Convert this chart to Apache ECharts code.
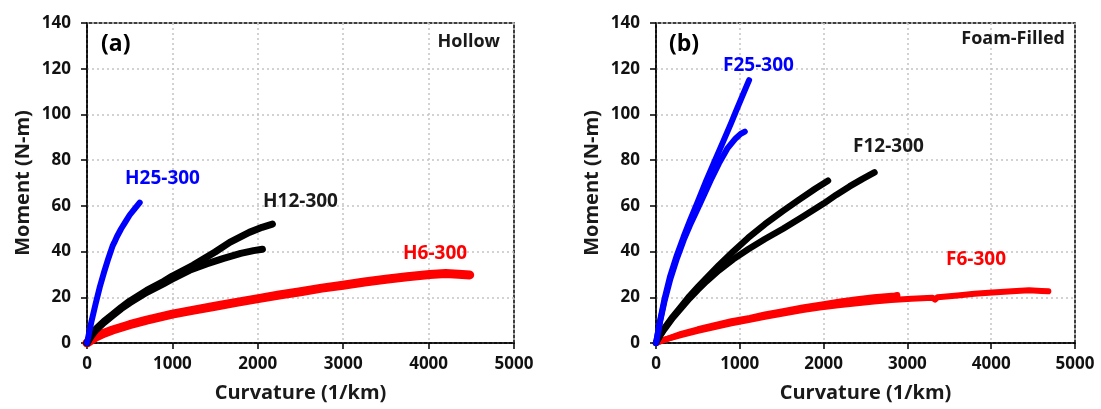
<!DOCTYPE html>
<html>
<head>
<meta charset="utf-8">
<script src="https://cdn.jsdelivr.net/npm/echarts@6/dist/echarts.min.js"></script>
<style>
html,body{margin:0;padding:0;background:#fff;}
#chart{width:1101px;height:409px;}
</style>
</head>
<body>
<div id="chart"></div>
<script>
// ---- Data (curvature in 1/km, moment in N-m) ----
var xTicks = [0, 1000, 2000, 3000, 4000, 5000];
var yTicks = [0, 20, 40, 60, 80, 100, 120, 140];

// Panel (a) Hollow
var h25 = [[0,0],[50,9],[100,17],[150,24.5],[200,31],[250,37],[300,42.5],[320,44],[350,46.5],[400,50],[450,53],[500,56],[560,58.8],[617,61.4]];
var h12a = [[0,0],[50,3.5],[100,6],[200,9.5],[300,12.5],[400,15.5],[500,18.3],[700,23],[900,27],[1000,29.3],[1241,34],[1500,39.8],[1671,44],[1900,48.4],[2050,50.6],[2171,52]];
var h12b = [[0,0],[50,3],[100,5.5],[200,9],[300,12],[400,15],[500,17.6],[700,22.2],[900,26],[1000,28],[1200,31.8],[1400,34.6],[1600,37],[1800,39.2],[1950,40.4],[2054,41]];
var h6 = [[0,0],[100,2.5],[200,4.3],[300,5.7],[500,8],[700,10],[1000,12.6],[1250,14.4],[1500,16.1],[1750,17.8],[2022,19.5],[2250,21],[2500,22.4],[2750,24],[2998,25.3],[3250,26.7],[3500,27.9],[3750,29],[4013,30],[4200,30.4],[4350,30.1],[4481,29.8]];

// Panel (b) Foam-Filled
var f25a = [[0,0],[50,10],[100,19],[167,29],[250,38.5],[330,46.5],[405,53.5],[500,62],[600,71],[700,79.5],[800,88],[900,96.5],[950,101],[1030,108],[1111,115]];
var f25b = [[0,0],[50,9.5],[100,18],[167,27.5],[250,37],[330,45],[405,51.5],[500,59],[563,64],[650,71],[750,78.5],[850,85],[950,89.5],[1010,91.5],[1060,92.5]];
var f12a = [[0,0],[50,3.5],[100,6.5],[200,11.5],[300,16],[400,20.5],[500,24.5],[603,28.5],[750,34],[920,40],[1100,46],[1300,52],[1516,57.8],[1700,62.5],[1900,67.5],[2052,71]];
var f12b = [[0,0],[50,3.3],[100,6],[200,11],[300,15.3],[400,19.5],[500,23.3],[603,27],[750,31.8],[920,36.6],[1100,41],[1300,45.5],[1516,50],[1750,55.2],[2000,61],[2150,64.8],[2310,68.5],[2460,71.7],[2607,74.6]];
var f6a = [[0,0],[100,1.5],[300,3.5],[500,5.3],[700,7],[900,8.6],[1119,10.2],[1300,11.5],[1500,12.8],[1750,14.4],[1952,15.5],[2200,16.6],[2400,17.4],[2600,18.1],[2806,18.8],[3050,19.4],[3300,19.8],[3330,19],[3360,20],[3600,20.8],[3800,21.5],[4016,22.1],[4250,22.6],[4452,23.1],[4600,22.8],[4682,22.6]];
var f6b = [[0,0],[300,4],[500,6],[700,7.8],[900,9.5],[1119,11],[1300,12.5],[1500,13.8],[1750,15.5],[2000,17],[2200,18.2],[2400,19.2],[2600,20],[2850,20.8],[2880,21],[2880,19.8]];

var FONT = '"Open Sans", "DejaVu Sans", sans-serif';
var BLUE = '#0000ff', BLACK = '#000000', RED = '#ff0000';

function xAxisCfg(gi) {
  return {
    type: 'value', gridIndex: gi, min: xTicks[0], max: xTicks[xTicks.length - 1], interval: 1000,
    name: 'Curvature (1/km)', nameLocation: 'middle', nameGap: 40,
    nameTextStyle: {fontFamily: FONT, fontWeight: 'bold', fontSize: 20, color: '#1a1a1a'},
    axisLine: {show: true, onZero: false, lineStyle: {color: '#000', width: 1.5}},
    axisTick: {show: true, inside: false, length: 6, lineStyle: {color: '#000', width: 1.5}},
    axisLabel: {fontFamily: FONT, fontWeight: 'bold', fontSize: 17, color: '#111', margin: 13,
      formatter: function (v) { return String(v); }},
    splitLine: {show: true, lineStyle: {color: '#c4c4c4', width: 1.5, type: [2, 3]}}
  };
}
function yAxisCfg(gi) {
  return {
    type: 'value', gridIndex: gi, min: yTicks[0], max: yTicks[yTicks.length - 1], interval: 20,
    name: 'Moment (N-m)', nameLocation: 'middle', nameGap: 54, nameRotate: 90,
    nameTextStyle: {fontFamily: FONT, fontWeight: 'bold', fontSize: 20, color: '#1a1a1a'},
    axisLine: {show: true, onZero: false, lineStyle: {color: '#000', width: 1.5}},
    axisTick: {show: true, inside: false, length: 6, lineStyle: {color: '#000', width: 1.5}},
    axisLabel: {fontFamily: FONT, fontWeight: 'bold', fontSize: 17, color: '#111', margin: 16,
      formatter: function (v) { return String(v); }},
    splitLine: {show: true, lineStyle: {color: '#c4c4c4', width: 1.5, type: [2, 3]}}
  };
}
function line(data, color, width, gi) {
  return {
    type: 'line', data: data, xAxisIndex: gi, yAxisIndex: gi,
    showSymbol: false, smooth: false, animation: false, silent: true,
    lineStyle: {color: color, width: width, cap: 'round', join: 'round'}
  };
}

var chart = echarts.init(document.getElementById('chart'), null, {renderer: 'canvas'});
chart.setOption({
  backgroundColor: '#ffffff',
  animation: false,
  grid: [
    {left: 87, top: 23, width: 427, height: 320, show: true, borderColor: '#000', borderWidth: 1.5},
    {left: 656, top: 23, width: 419, height: 320, show: true, borderColor: '#000', borderWidth: 1.5}
  ],
  xAxis: [xAxisCfg(0), xAxisCfg(1)],
  yAxis: [yAxisCfg(0), yAxisCfg(1)],
  series: [
    line(h6, RED, 9, 0),
    line(h12a, BLACK, 7, 0),
    line(h12b, BLACK, 7, 0),
    line(h25, BLUE, 6, 0),
    line(f6a, RED, 6, 1),
    line(f6b, RED, 6, 1),
    line(f12a, BLACK, 6.5, 1),
    line(f12b, BLACK, 6.5, 1),
    line(f25a, BLUE, 6, 1),
    line(f25b, BLUE, 6, 1)
  ],
  graphic: [
    {type: 'text', left: 101, top: 33, z: 100, style: {text: '(a)', fill: '#000', font: 'bold 23px ' + FONT}},
    {type: 'text', right: 601, top: 33, z: 100, style: {text: 'Hollow', fill: '#1a1a1a', font: 'bold 18px ' + FONT}},
    {type: 'text', left: 669, top: 33, z: 100, style: {text: '(b)', fill: '#000', font: 'bold 23px ' + FONT}},
    {type: 'text', right: 36, top: 30, z: 100, style: {text: 'Foam-Filled', fill: '#1a1a1a', font: 'bold 18px ' + FONT}},
    {type: 'text', left: 125, top: 169, z: 100, style: {text: 'H25-300', fill: BLUE, font: 'bold 19px ' + FONT}},
    {type: 'text', left: 263, top: 192, z: 100, style: {text: 'H12-300', fill: '#1a1a1a', font: 'bold 19px ' + FONT}},
    {type: 'text', left: 403, top: 244, z: 100, style: {text: 'H6-300', fill: RED, font: 'bold 19px ' + FONT}},
    {type: 'text', left: 723, top: 56, z: 100, style: {text: 'F25-300', fill: BLUE, font: 'bold 19px ' + FONT}},
    {type: 'text', left: 853, top: 137, z: 100, style: {text: 'F12-300', fill: '#1a1a1a', font: 'bold 19px ' + FONT}},
    {type: 'text', left: 946, top: 250, z: 100, style: {text: 'F6-300', fill: RED, font: 'bold 19px ' + FONT}}
  ]
});
</script>
</body>
</html>
